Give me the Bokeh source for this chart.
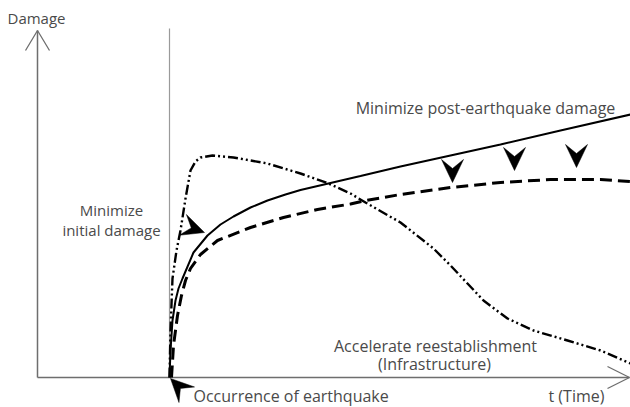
import numpy as np
from bokeh.plotting import figure
from bokeh.models import Range1d
from bokeh.core.properties import value
from bokeh.embed import file_html
from bokeh.resources import INLINE

# ---- data (conceptual curves; x = time, y = page-down damage coordinate) ----
solid_t = [169, 170, 172, 175, 178, 182, 193, 207, 220, 233, 250, 267, 285, 300, 330, 360, 400, 450, 500, 560, 630]
solid_d = [377, 350, 320, 300, 288, 278, 252, 235, 224, 216, 207, 200, 194, 189.5, 182.5, 175.5, 166, 155, 144, 130, 114]

dashed_t = [171, 173, 177, 181, 185, 190, 200, 217, 250, 283, 317, 350, 365, 400, 450, 500, 550, 600, 630]
dashed_d = [377, 345, 315, 295, 280, 268, 254, 240, 227, 217, 209, 203.5, 200, 194, 187, 182, 179, 179, 181]

dd_t = [169, 170, 172, 176, 180, 185, 190, 195, 200, 212, 233, 267, 300, 328, 350, 365, 400, 433, 450, 483, 507, 533, 567, 600, 630]
dd_d = [377, 330, 278, 250, 230, 198, 170, 161, 157, 155, 157, 163, 173, 183, 193, 202, 222, 248, 265, 300, 318, 330, 340, 350, 363]

# chevron arrow annotations: tip position and pointing direction
arrow_x = [452, 514, 576, 204, 170]
arrow_y = [182, 170, 167, 232, 378]
arrow_dx = [0, 0, 0, 1.0, -1.0]
arrow_dy = [1, 1, 1, 0.35, -1.0]

labels = ["Minimize post-earthquake damage", "Accelerate reestablishment", "(Infrastructure)"]
label_x = [485, 435, 434]
label_y = [107, 345, 363]

# ---- figure ----
p = figure(width=630, height=407, output_backend="svg", toolbar_location=None,
           x_range=Range1d(0, 630), y_range=Range1d(407, 0), min_border=0)
p.axis.visible = False
p.grid.visible = False
p.outline_line_color = None
p.background_fill_color = "white"

axis_col = "#6e6e6e"
# axes
p.segment(x0=[37, 37], y0=[377, 377], x1=[37, 629], y1=[30, 377], line_color=axis_col, line_width=1.5)
p.line([25, 37, 49], [50, 30, 50], line_color=axis_col, line_width=1.3)
p.line([607, 629, 607], [366, 377, 388], line_color=axis_col, line_width=1.3)
# earthquake time line
p.segment(x0=[169], y0=[377], x1=[169], y1=[28], line_color="#9a9a9a", line_width=1.2)

# curves
p.line(dd_t, dd_d, line_color="black", line_width=2.4, line_dash="10 3 2 3 2 3")
p.line(dashed_t, dashed_d, line_color="black", line_width=3, line_dash="12 6")
p.line(solid_t, solid_d, line_color="black", line_width=2)

# chevrons
L, W, N = 23, 22, 9
xs, ys = [], []
for tx, ty, dx, dy in zip(arrow_x, arrow_y, arrow_dx, arrow_dy):
    n = np.hypot(dx, dy)
    ux, uy = dx / n, dy / n
    px, py = -uy, ux
    xs.append([tx, tx - L * ux + W / 2 * px, tx - (L - N) * ux, tx - L * ux - W / 2 * px])
    ys.append([ty, ty - L * uy + W / 2 * py, ty - (L - N) * uy, ty - L * uy - W / 2 * py])
p.patches(xs, ys, fill_color="black", line_color="black", line_width=0.5)

font = value("Open Sans")
tcol = "#4a4a4a"
p.text(label_x, label_y, text=labels, text_font=font, text_font_size="16px",
       text_color=tcol, text_align="center", text_baseline="middle")
p.text([111, 111], [209, 229], text=["Minimize", "initial damage"], text_font=font, text_font_size="15px",
       text_color=tcol, text_align="center", text_baseline="middle")
p.text([7], [17], text=["Damage"], text_font=font, text_font_size="15px",
       text_color=tcol, text_align="left", text_baseline="middle")
p.text([193], [395], text=["Occurrence of earthquake"], text_font=font, text_font_size="16px",
       text_color=tcol, text_align="left", text_baseline="middle")
p.text([548], [395], text=["t (Time)"], text_font=font, text_font_size="16px",
       text_color=tcol, text_align="left", text_baseline="middle")

open("out.html", "w").write(file_html(p, INLINE))
